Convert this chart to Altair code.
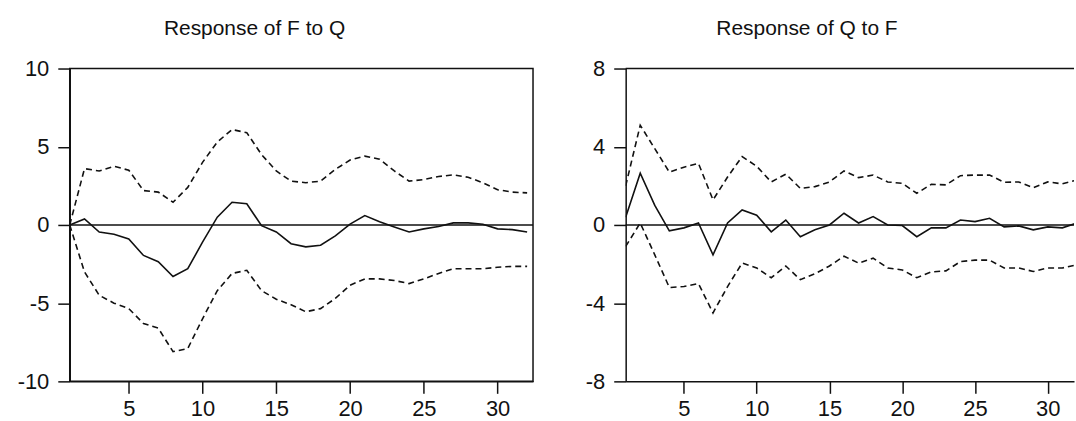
import altair as alt
import pandas as pd

periods = list(range(1, 33))

# Response of F to Q
fq_mid = [0, 0.38, -0.45, -0.6, -0.9, -1.95, -2.35, -3.3, -2.8, -1.1, 0.5, 1.45, 1.35, -0.05, -0.45, -1.2,
          -1.4, -1.3, -0.7, 0.05, 0.6, 0.2, -0.13, -0.45, -0.25, -0.1, 0.13, 0.13, 0.05, -0.25, -0.3, -0.45]
fq_up = [0, 3.6, 3.45, 3.75, 3.5, 2.2, 2.1, 1.45, 2.4, 4.0, 5.3, 6.1, 5.9, 4.5, 3.45, 2.8,
         2.7, 2.8, 3.55, 4.15, 4.4, 4.2, 3.45, 2.8, 2.9, 3.1, 3.2, 3.05, 2.7, 2.25, 2.1, 2.05]
fq_lo = [0, -3.0, -4.5, -5.0, -5.35, -6.3, -6.6, -8.1, -7.9, -6.0, -4.2, -3.1, -2.9, -4.2, -4.75, -5.1,
         -5.55, -5.35, -4.7, -3.85, -3.45, -3.45, -3.55, -3.75, -3.45, -3.1, -2.8, -2.8, -2.8, -2.7, -2.65, -2.65]

# Response of Q to F
qf_mid = [0.4, 2.65, 1.0, -0.3, -0.15, 0.1, -1.53, 0.1, 0.77, 0.5, -0.35, 0.25, -0.6, -0.25, 0.0, 0.6,
          0.1, 0.43, 0.0, -0.03, -0.6, -0.15, -0.15, 0.25, 0.17, 0.34, -0.1, -0.05, -0.25, -0.1, -0.15, 0.1]
qf_up = [2.0, 5.1, 3.9, 2.7, 2.95, 3.15, 1.28, 2.45, 3.5, 3.0, 2.2, 2.6, 1.87, 1.96, 2.2, 2.76,
         2.42, 2.55, 2.2, 2.13, 1.62, 2.08, 2.05, 2.52, 2.55, 2.55, 2.18, 2.2, 1.9, 2.2, 2.1, 2.3]
qf_lo = [-1.1, 0.1, -1.53, -3.2, -3.15, -3.0, -4.5, -3.15, -1.95, -2.2, -2.7, -2.1, -2.8, -2.5, -2.1, -1.6,
         -1.95, -1.7, -2.2, -2.3, -2.7, -2.4, -2.35, -1.87, -1.8, -1.8, -2.2, -2.2, -2.38, -2.2, -2.2, -2.04]

x_ticks = [5, 10, 15, 20, 25, 30]
fq_yticks = [-10, -5, 0, 5, 10]
qf_yticks = [-8, -4, 0, 4, 8]

FONT = "Liberation Sans"
INK = "#111111"
LABEL_EXPR = "'' + datum.value"


def panel(mid, up, lo, ydom, yticks, title, width, xmax, right_frame, title_dx):
    df = pd.DataFrame({"t": periods, "mid": mid, "up": up, "lo": lo})
    xs = alt.Scale(domain=[1, xmax], nice=False, zero=False)
    ys = alt.Scale(domain=ydom, nice=False, zero=False)
    xax = alt.Axis(values=x_ticks, title=None, grid=False, tickSize=12, labelPadding=5,
                   labelFontSize=22, labelFont=FONT, labelColor=INK, domainColor=INK,
                   tickColor=INK, domainWidth=1.5, tickWidth=1.5, labelFlush=False,
                   labelExpr=LABEL_EXPR)
    yax = alt.Axis(values=yticks, title=None, grid=False, tickSize=12, labelPadding=9,
                   labelFontSize=22, labelFont=FONT, labelColor=INK, domainColor=INK,
                   tickColor=INK, domainWidth=1.5, tickWidth=1.5, labelFlush=False,
                   labelExpr=LABEL_EXPR)
    base = alt.Chart(df)
    zero = alt.Chart(pd.DataFrame({"z": [0]})).mark_rule(color=INK, strokeWidth=1.5).encode(
        y=alt.Y("z:Q", scale=ys, axis=yax))
    solid = base.mark_line(color=INK, strokeWidth=1.6, clip=True).encode(
        x=alt.X("t:Q", scale=xs, axis=xax), y=alt.Y("mid:Q", scale=ys, axis=yax))
    upper = base.mark_line(color=INK, strokeWidth=1.6, strokeDash=[6, 4], clip=True).encode(
        x=alt.X("t:Q", scale=xs, axis=xax), y=alt.Y("up:Q", scale=ys, axis=yax))
    lower = base.mark_line(color=INK, strokeWidth=1.6, strokeDash=[6, 4], clip=True).encode(
        x=alt.X("t:Q", scale=xs, axis=xax), y=alt.Y("lo:Q", scale=ys, axis=yax))
    layers = [zero, solid, upper, lower]
    if not right_frame:
        top = alt.Chart(pd.DataFrame({"z": [0]})).mark_rule(color=INK, strokeWidth=1.5).encode(
            x=alt.value(0), x2=alt.value(width), y=alt.value(0))
        layers.append(top)
    ch = alt.layer(*layers).properties(
        width=width, height=314,
        title=alt.TitleParams(title, fontSize=21, font=FONT, fontWeight="normal", color=INK,
                              anchor="middle", frame="group", dx=title_dx, offset=2,
                              baseline="alphabetic"),
        view=alt.ViewBackground(stroke=INK if right_frame else "transparent", strokeWidth=1.5),
    )
    return ch


left = panel(fq_mid, fq_up, fq_lo, [-10, 10], fq_yticks, "Response of F to Q", 465, 32.4, True, -47)
right = panel(qf_mid, qf_up, qf_lo, [-8, 8], qf_yticks, "Response of Q to F", 450, 31.8, False, -43)

chart = alt.hconcat(left, right, spacing=49).properties(
    padding={"left": 16, "top": 16, "right": 0, "bottom": 0}
).configure_view(stroke=INK, strokeWidth=1.5).configure(background="white")

chart.save("out.html", embed_options={"renderer": "svg", "actions": False})
